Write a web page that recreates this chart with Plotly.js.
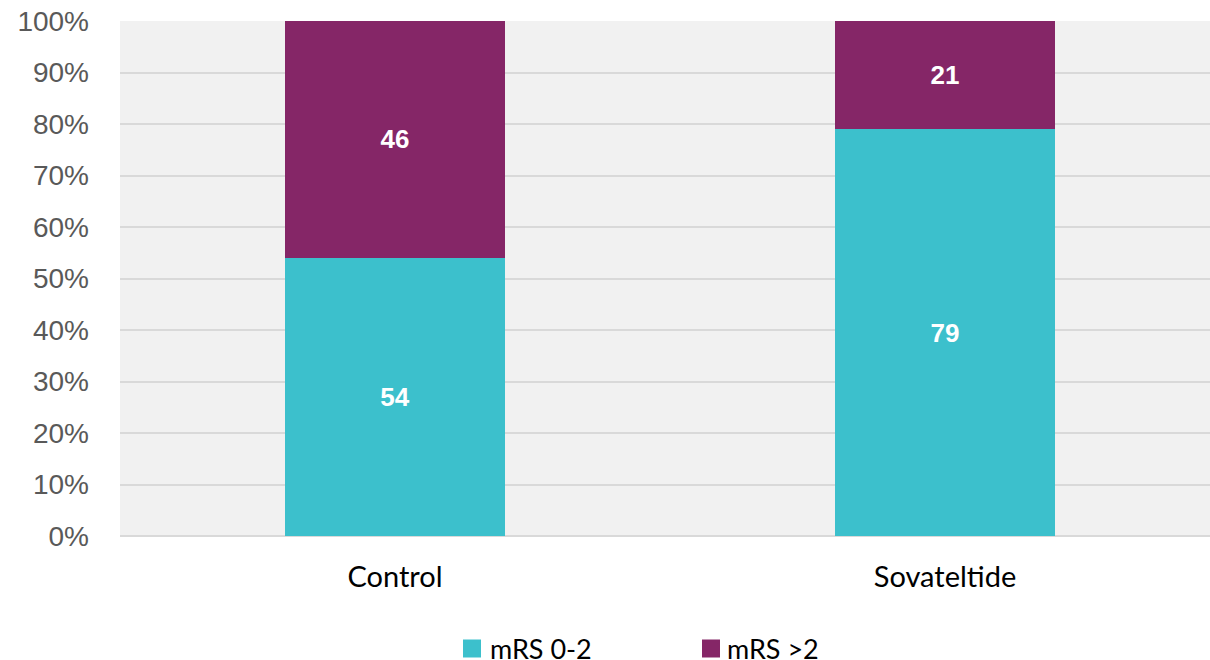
<!DOCTYPE html>
<html>
<head>
<meta charset="utf-8">
<script src="https://cdn.plot.ly/plotly-3.0.1.min.js"></script>
<style>
  html, body { margin: 0; padding: 0; background: #ffffff; overflow: hidden; }
  #chart { width: 1210px; height: 660px; }
</style>
</head>
<body>
<div id="chart"></div>
<script>
// Outcome groups and share of patients (%) by modified Rankin Scale
const categories = ['Control', 'Sovateltide'];
const seriesNames = ['mRS 0-2', 'mRS >2'];
const mrsGood = [54, 79];
const mrsPoor = [46, 21];
const seriesColors = ['#3cc0cc', '#852667'];

const W = 1210, H = 660;
const M = { l: 120, r: 0, t: 21, b: 124 };
const plotW = W - M.l - M.r;
const plotH = H - M.t - M.b;

// pixel -> paper coordinate helpers for the hand-drawn legend
const px = x => (x - M.l) / plotW;
const py = y => (H - M.b - y) / plotH;

const labelFont = { family: 'Liberation Sans, Arial, sans-serif', size: 26, color: '#ffffff', weight: 700 };

const traces = [mrsGood, mrsPoor].map((vals, i) => ({
  type: 'bar',
  name: seriesNames[i],
  x: categories,
  y: vals,
  width: 0.4,
  marker: { color: seriesColors[i], line: { width: 0 } },
  text: vals.map(String),
  texttemplate: '%{text}',
  textposition: 'inside',
  insidetextanchor: 'middle',
  textangle: 0,
  textfont: labelFont,
  hoverinfo: 'skip',
  showlegend: false
}));

// legend: swatch + series name, laid out in pixels
const legendItems = [
  { swatchX: 463, textX: 489 },
  { swatchX: 702, textX: 726 }
];
const legendCY = 648, sw = 18;
const shapes = legendItems.map((it, i) => ({
  type: 'rect', xref: 'paper', yref: 'paper',
  x0: px(it.swatchX), x1: px(it.swatchX + sw),
  y0: py(legendCY + 0.5 + sw / 2), y1: py(legendCY + 0.5 - sw / 2),
  fillcolor: seriesColors[i], line: { width: 0 }
}));
const annotations = legendItems.map((it, i) => ({
  xref: 'paper', yref: 'paper',
  x: px(it.textX), y: py(legendCY),
  xanchor: 'left', yanchor: 'middle',
  borderpad: 0,
  text: seriesNames[i], showarrow: false,
  font: { family: 'Lato, Carlito, Calibri, sans-serif', size: 27, color: '#000000' }
}));

const layout = {
  width: W, height: H,
  margin: M,
  barmode: 'stack',
  paper_bgcolor: '#ffffff',
  plot_bgcolor: '#f1f1f1',
  showlegend: false,
  xaxis: {
    type: 'category',
    range: [-0.5, -0.5 + plotW / 550],
    showgrid: false, zeroline: false, showline: false,
    ticks: '',
    ticklabelstandoff: 21,
    tickfont: { family: 'Lato, Carlito, Calibri, sans-serif', size: 29, color: '#000000' },
    fixedrange: true
  },
  yaxis: {
    range: [0, 100],
    dtick: 10,
    ticksuffix: '%',
    showgrid: true, gridcolor: '#d9d9d9', gridwidth: 2,
    zeroline: true, zerolinecolor: '#d9d9d9', zerolinewidth: 2,
    showline: false, ticks: '',
    ticklabelstandoff: 30,
    tickfont: { family: 'Liberation Sans, Arial, sans-serif', size: 28, color: '#595959' },
    fixedrange: true
  },
  shapes: shapes,
  annotations: annotations
};

Plotly.newPlot('chart', traces, layout, { staticPlot: true, displayModeBar: false });
</script>
</body>
</html>
